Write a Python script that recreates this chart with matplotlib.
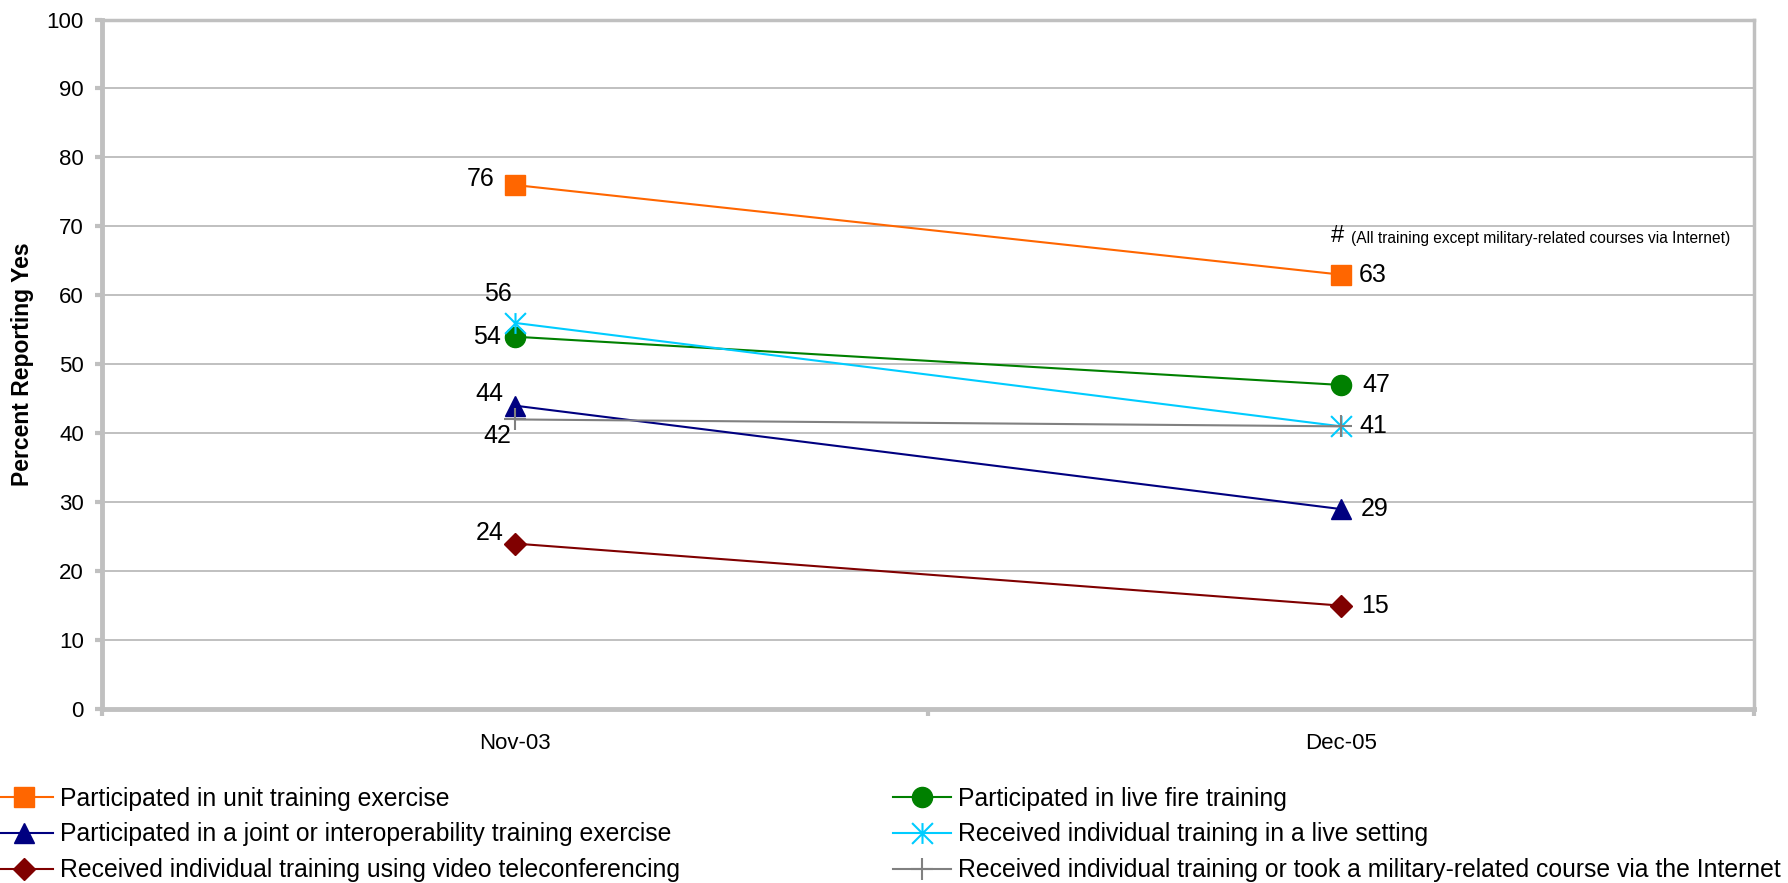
import matplotlib
matplotlib.use("Agg")
import matplotlib.pyplot as plt
from matplotlib.path import Path

plt.rcParams['font.family'] = ['Liberation Sans', 'DejaVu Sans']

# data
periods = ["Nov-03", "Dec-05"]
unit_exercise = [76, 63]
live_fire = [54, 47]
joint_exercise = [44, 29]
live_setting = [56, 41]
video_conf = [24, 15]
internet_course = [42, 41]
note_label = "(All training except military-related courses via Internet)"

# excel-ish star marker: vertical bar plus an X
star = Path([(0, -1), (0, 1), (-1, -1), (1, 1), (-1, 1), (1, -1)],
            [Path.MOVETO, Path.LINETO, Path.MOVETO, Path.LINETO, Path.MOVETO, Path.LINETO])

fig = plt.figure(figsize=(17.88, 8.83), dpi=100)
ax = fig.add_axes([0.0570, 0.1970, 0.9240, 0.7809])

x = list(range(len(periods)))
grid_c = "#C0C0C0"

series = [
    ("Participated in unit training exercise", unit_exercise, "#FF6600", "s", 14, [(-34, 6), (32, 0)]),
    ("Participated in live fire training", live_fire, "#008000", "o", 14.5, [(-28, 0), (35, 0)]),
    ("Participated in a joint or interoperability training exercise", joint_exercise, "#000080", "^", 15, [(-26, 12), (34, 0)]),
    ("Received individual training in a live setting", live_setting, "#00CCFF", star, 15, [(-17, 29), (32, 0)]),
    ("Received individual training using video teleconferencing", video_conf, "#800000", "D", 11, [(-25, 11), (34, 0)]),
    ("Received individual training or took a military-related course via the Internet", internet_course, "#808080", "+", 16, [(-18, -17), None]),
]

handles = {}
for name, vals, col, mk, ms, offs in series:
    ln, = ax.plot(x, vals, color=col, lw=1.5, marker=mk, markersize=ms,
                  markeredgecolor=col, markerfacecolor=col,
                  markeredgewidth=1.5 if mk in ("+",) or mk is star else 1, label=name, zorder=3)
    handles[name] = ln
    for xi, v, off in zip(x, vals, offs):
        if off is None:
            continue
        ax.annotate(str(v), (xi, v), xytext=off, textcoords="offset pixels",
                    ha="center", va="center", fontsize=18, zorder=4)

ax.annotate("#", (1, 68.2), xytext=(-4, 3), textcoords="offset pixels",
            ha="center", va="center", fontsize=17)
ax.annotate(note_label, (1, 68.2), xytext=(10, 0), textcoords="offset pixels",
            ha="left", va="center", fontsize=11.2)

ax.set_xlim(-0.5, len(periods) - 0.5)
ax.set_ylim(0, 100)
ax.set_yticks(range(0, 101, 10))
ax.set_xticks(x)
ax.set_xticklabels(periods)
ax.set_xticks([-0.5, 0.5, 1.5], minor=True)
ax.tick_params(axis="x", which="major", length=0, pad=17, labelsize=16)
ax.tick_params(axis="x", which="minor", length=5, width=3, color=grid_c)
ax.tick_params(axis="y", length=5, width=3, color=grid_c, pad=8, labelsize=16)
ax.yaxis.grid(True, color=grid_c, lw=1.4)
ax.set_axisbelow(True)
for side, w in [("left", 3.5), ("bottom", 3.5), ("right", 2.5), ("top", 2.5)]:
    ax.spines[side].set_color(grid_c)
    ax.spines[side].set_linewidth(w)

ax.set_ylabel("Percent Reporting Yes", fontsize=16.5, fontweight="bold")
ax.yaxis.set_label_coords(-0.041, 0.5)

names = [s[0] for s in series]
left_names = [names[0], names[2], names[4]]
right_names = [names[1], names[3], names[5]]
leg_kw = dict(frameon=False, fontsize=17.8, handlelength=2.35, handletextpad=0.29,
              labelspacing=0.48, borderaxespad=0, borderpad=0, numpoints=1, loc="upper left")
fig.legend([handles[n] for n in left_names], left_names,
           bbox_to_anchor=(-0.003, 0.1092), **leg_kw)
fig.legend([handles[n] for n in right_names], right_names,
           bbox_to_anchor=(0.4994, 0.1092), **leg_kw)

fig.savefig("out.png", dpi=100)
